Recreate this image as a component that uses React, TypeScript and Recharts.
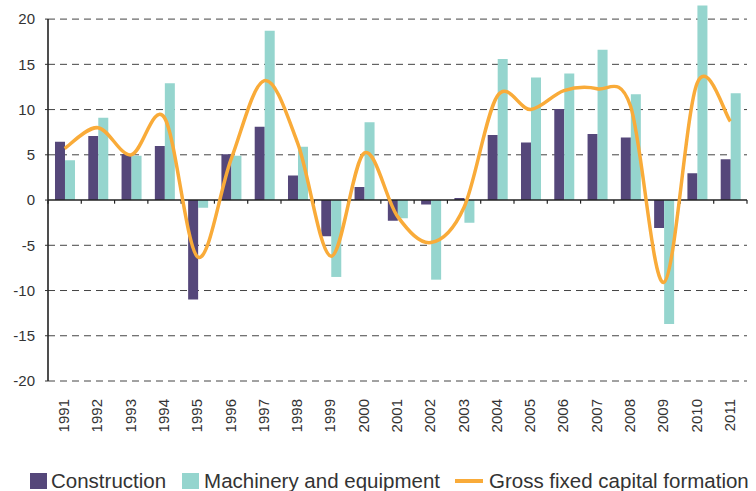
import React from 'react';
import { ComposedChart, Bar, Line, XAxis, YAxis, ReferenceLine } from 'recharts';

const years = ['1991','1992','1993','1994','1995','1996','1997','1998','1999','2000','2001','2002','2003','2004','2005','2006','2007','2008','2009','2010','2011'];
const construction = [6.45, 7.07, 5.1, 5.97, -11.0, 5.05, 8.1, 2.7, -4.0, 1.44, -2.3, -0.48, 0.22, 7.2, 6.37, 10.05, 7.3, 6.9, -3.1, 2.95, 4.5];
const machinery = [4.4, 9.1, 4.9, 12.9, -0.85, 4.9, 18.7, 5.9, -8.5, 8.6, -2.0, -8.8, -2.5, 15.6, 13.55, 14.0, 16.6, 11.7, -13.7, 21.5, 11.8];
const gfcf = [5.7, 8.0, 5.0, 9.1, -6.3, 4.5, 13.2, 6.3, -6.2, 5.2, -1.8, -4.7, -0.8, 11.5, 10.0, 12.1, 12.3, 10.4, -9.1, 12.9, 8.7];
const yTicks = [-20, -15, -10, -5, 0, 5, 10, 15, 20];

const seriesNames = ['Construction', 'Machinery and equipment', 'Gross fixed capital formation'];
const colors = { construction: '#55477a', machinery: '#95d5ce', gfcf: '#f9ab39' };

const data = years.map((y, i) => ({ year: y, construction: construction[i], machinery: machinery[i], gfcf: gfcf[i] }));

const FONT = '"Liberation Sans", Arial, Helvetica, sans-serif';

// Excel-like smooth curve (Catmull-Rom via cubic Bezier)
const smoothCurve: any = (context: any) => {
  let pts: number[][] = [];
  return {
    areaStart() {},
    areaEnd() {},
    lineStart() { pts = []; },
    point(x: number, y: number) { pts.push([+x, +y]); },
    lineEnd() {
      if (!pts.length) return;
      context.moveTo(pts[0][0], pts[0][1]);
      for (let i = 0; i < pts.length - 1; i++) {
        const p0 = pts[i - 1] || pts[i];
        const p1 = pts[i];
        const p2 = pts[i + 1];
        const p3 = pts[i + 2] || p2;
        const c1x = p1[0] + (p2[0] - p0[0]) / 6;
        const c1y = p1[1] + (p2[1] - p0[1]) / 6;
        const c2x = p2[0] - (p3[0] - p1[0]) / 6;
        const c2y = p2[1] - (p3[1] - p1[1]) / 6;
        context.bezierCurveTo(c1x, c1y, c2x, c2y, p2[0], p2[1]);
      }
    },
  };
};

const XTick = (props: any) => {
  const { x, y, payload } = props;
  return (
    <text x={x - 1} y={y} transform={`rotate(-90 ${x - 1} ${y})`} textAnchor="end" dominantBaseline="central"
      fontSize={15} fill="#333" fontFamily={FONT}>{payload.value}</text>
  );
};

export default function App() {
  return (
    <div style={{ position: 'absolute', left: 0, top: 0, width: 756, height: 491, background: '#fff' }}>
      <ComposedChart width={756} height={491} data={data}
        margin={{ top: 1, right: 9, bottom: 55, left: 0 }}
        barCategoryGap="21%" barGap={0}>
        <XAxis dataKey="year" height={55} axisLine={false} tickLine={false} tickMargin={12}
          interval={0} tick={<XTick />} />
        <YAxis width={48} domain={[-20, 22]} ticks={yTicks} axisLine={false}
          tickLine={{ stroke: '#333' }} tickSize={3} tickMargin={10}
          tick={{ fontSize: 15, fill: '#333', fontFamily: FONT }} allowDataOverflow />
        {yTicks.filter((t) => t !== 0).map((t) => (
          <ReferenceLine key={'g' + t} y={t} stroke="#444" strokeDasharray="7 5" strokeWidth={1}
            ifOverflow="visible" {...({ zIndex: -50 } as any)} />
        ))}
        <Bar dataKey="construction" name={seriesNames[0]} fill={colors.construction} isAnimationActive={false} />
        <Bar dataKey="machinery" name={seriesNames[1]} fill={colors.machinery} isAnimationActive={false} />
        <ReferenceLine y={0} stroke="#222" strokeWidth={1.6} />
        <ReferenceLine segment={[{ x: years[0], y: -20 }, { x: years[0], y: 20 }]} position="start"
          stroke="#222" strokeWidth={1.6} ifOverflow="visible" />
        {years.map((yr) => (
          <ReferenceLine key={'t' + yr} segment={[{ x: yr, y: 0 }, { x: yr, y: -0.4 }]} position="start"
            stroke="#222" strokeWidth={1.2} ifOverflow="visible" />
        ))}
        <ReferenceLine segment={[{ x: years[years.length - 1], y: 0 }, { x: years[years.length - 1], y: -0.4 }]}
          position="end" stroke="#222" strokeWidth={1.2} ifOverflow="visible" />
        <Line dataKey="gfcf" name={seriesNames[2]} type={smoothCurve} stroke={colors.gfcf} strokeWidth={3.5}
          dot={false} activeDot={false} isAnimationActive={false} />
      </ComposedChart>
      <div style={{ position: 'absolute', left: 30, top: 471, height: 20, display: 'flex', alignItems: 'center',
        fontFamily: FONT, fontSize: 20.5, color: '#333', whiteSpace: 'nowrap', lineHeight: '20px' }}>
        <span style={{ display: 'inline-block', width: 17, height: 16, background: colors.construction, marginRight: 4 }} />
        <span style={{ marginRight: 16 }}>{seriesNames[0]}</span>
        <span style={{ display: 'inline-block', width: 17, height: 16, background: colors.machinery, marginRight: 5 }} />
        <span style={{ marginRight: 15 }}>{seriesNames[1]}</span>
        <span style={{ display: 'inline-block', width: 28, height: 4, background: colors.gfcf, marginRight: 6 }} />
        <span>{seriesNames[2]}</span>
      </div>
    </div>
  );
}
